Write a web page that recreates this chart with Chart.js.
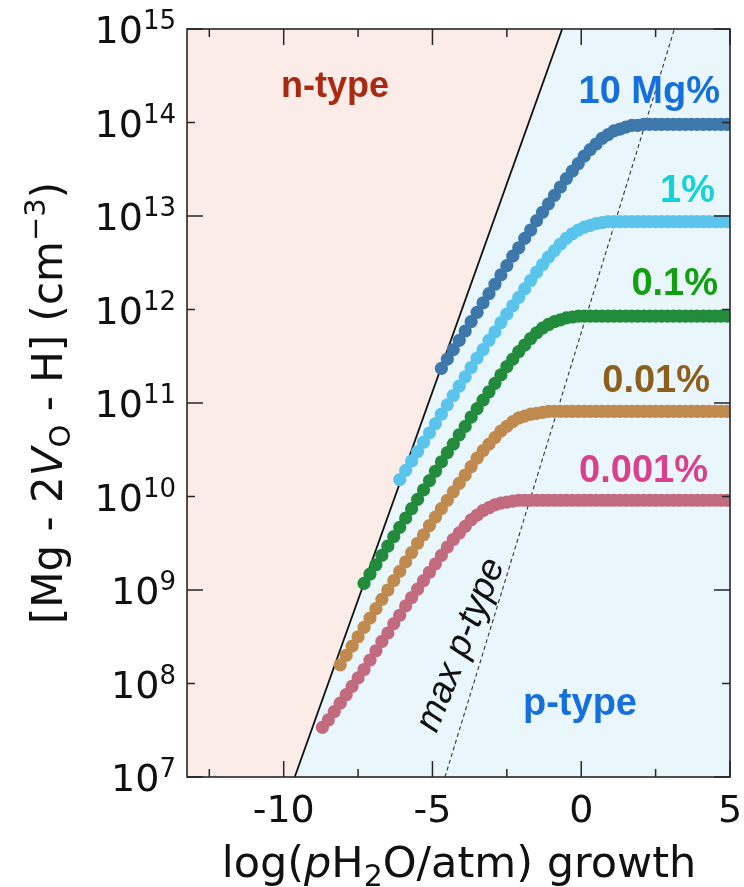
<!DOCTYPE html>
<html>
<head>
<meta charset="utf-8">
<script src="https://cdn.jsdelivr.net/npm/chart.js@4.4.0/dist/chart.umd.min.js"></script>
<style>
  body { margin: 0; background: #fff; }
  canvas { display: block; }
</style>
</head>
<body>
<canvas id="chart" width="744" height="887"></canvas>
<script>
// log(pH2O/atm) grid shared by all curves (each curve ends at 4.9)
const xGrid = [
  -8.7, -8.5, -8.3, -8.1, -7.9, -7.7, -7.5, -7.3, -7.1, -6.9,
  -6.7, -6.5, -6.3, -6.1, -5.9, -5.7, -5.5, -5.3, -5.1, -4.9,
  -4.7, -4.5, -4.3, -4.1, -3.9, -3.7, -3.5, -3.3, -3.1, -2.9,
  -2.7, -2.5, -2.3, -2.1, -1.9, -1.7, -1.5, -1.3, -1.1, -0.9,
  -0.7, -0.5, -0.3, -0.1, 0.1, 0.3, 0.5, 0.7, 0.9, 1.1,
  1.3, 1.5, 1.7, 1.9, 2.1, 2.3, 2.5, 2.7, 2.9, 3.1,
  3.3, 3.5, 3.7, 3.9, 4.1, 4.3, 4.5, 4.7, 4.9
];

// log10 [Mg - 2V_O - H] (cm^-3) for each Mg content
const mg10 = [
  11.37, 11.47, 11.57, 11.67, 11.77, 11.87, 11.97, 12.07, 12.17, 12.27,
  12.37, 12.47, 12.57, 12.66, 12.76, 12.85, 12.95, 13.04, 13.13, 13.22,
  13.31, 13.40, 13.48, 13.56, 13.64, 13.71, 13.77, 13.83, 13.87, 13.91,
  13.93, 13.95, 13.97, 13.97, 13.98, 13.98, 13.98, 13.98, 13.98, 13.98,
  13.98, 13.98, 13.98, 13.98, 13.98, 13.98, 13.98, 13.98, 13.98
];
const mg1 = [
  10.18, 10.28, 10.38, 10.48, 10.58, 10.68, 10.78, 10.88, 10.98, 11.08,
  11.18, 11.28, 11.38, 11.48, 11.57, 11.67, 11.76, 11.86, 11.95, 12.04,
  12.13, 12.22, 12.31, 12.40, 12.48, 12.56, 12.63, 12.70, 12.76, 12.81,
  12.85, 12.88, 12.90, 12.92, 12.93, 12.94, 12.94, 12.94, 12.94, 12.94,
  12.94, 12.94, 12.94, 12.94, 12.94, 12.94, 12.94, 12.94, 12.94, 12.94,
  12.94, 12.94, 12.94, 12.94, 12.94, 12.94
];
const mg01 = [
  9.07, 9.17, 9.27, 9.37, 9.47, 9.57, 9.67, 9.77, 9.87, 9.97,
  10.07, 10.17, 10.27, 10.37, 10.47, 10.56, 10.66, 10.75, 10.85, 10.94,
  11.03, 11.12, 11.21, 11.30, 11.39, 11.47, 11.55, 11.62, 11.69, 11.75,
  11.80, 11.84, 11.87, 11.89, 11.91, 11.92, 11.93, 11.93, 11.93, 11.93,
  11.93, 11.93, 11.93, 11.93, 11.93, 11.93, 11.93, 11.93, 11.93, 11.93,
  11.93, 11.93, 11.93, 11.93, 11.93, 11.93, 11.93, 11.93, 11.93, 11.93,
  11.93, 11.93
];
const mg001 = [
  8.20, 8.30, 8.40, 8.50, 8.60, 8.70, 8.80, 8.90, 9.00, 9.10,
  9.20, 9.30, 9.40, 9.50, 9.59, 9.69, 9.78, 9.87, 9.96, 10.05,
  10.14, 10.23, 10.32, 10.41, 10.49, 10.56, 10.63, 10.70, 10.75, 10.80,
  10.84, 10.86, 10.88, 10.89, 10.90, 10.91, 10.91, 10.91, 10.91, 10.91,
  10.91, 10.91, 10.91, 10.91, 10.91, 10.91, 10.91, 10.91, 10.91, 10.91,
  10.91, 10.91, 10.91, 10.91, 10.91, 10.91, 10.91, 10.91, 10.91, 10.91,
  10.91, 10.91, 10.91, 10.91, 10.91, 10.91
];
const mg0001 = [
  7.53, 7.61, 7.70, 7.79, 7.88, 7.97, 8.06, 8.15, 8.25, 8.35,
  8.45, 8.54, 8.64, 8.73, 8.83, 8.92, 9.01, 9.10, 9.19, 9.28,
  9.37, 9.46, 9.54, 9.61, 9.68, 9.75, 9.80, 9.85, 9.88, 9.91,
  9.93, 9.94, 9.95, 9.96, 9.96, 9.96, 9.96, 9.96, 9.96, 9.96,
  9.96, 9.96, 9.96, 9.96, 9.96, 9.96, 9.96, 9.96, 9.96, 9.96,
  9.96, 9.96, 9.96, 9.96, 9.96, 9.96, 9.96, 9.96, 9.96, 9.96,
  9.96, 9.96, 9.96, 9.96, 9.96, 9.96, 9.96, 9.96, 9.96
];

const seriesNames = ['10 Mg%', '1%', '0.1%', '0.01%', '0.001%'];
const dotColors = ['#3e78ab', '#5ac4ec', '#228b3c', '#c08a4e', '#c26a7e'];
const labelColors = ['#1670dc', '#14d2d6', '#12a012', '#8c5f1e', '#d8428d'];

// n-type / p-type boundary and the max p-type line
const boundaryX = [-9.63, -0.64];
const boundaryY = [1e7, 1e15];
const maxPX = [-4.58, 3.13];
const maxPY = [1e7, 1e15];

const X_MIN = -13.25, X_MAX = 5;
const yTickExps = [7, 8, 9, 10, 11, 12, 13, 14, 15];
const xTicks = [-10, -5, 0, 5];
const xMinorTicks = [-12.5, -7.5, -2.5, 2.5];

function toPoints(values) {
  const xs = xGrid.slice(xGrid.length - values.length);
  return values.map((v, i) => ({ x: xs[i], y: Math.pow(10, v) }));
}

// outline used to shade the two regions on either side of the boundary
const regionEdge = [
  { x: X_MIN, y: boundaryY[0] },
  { x: boundaryX[0], y: boundaryY[0] },
  { x: boundaryX[1], y: boundaryY[1] },
  { x: X_MAX, y: boundaryY[1] }
];

const curves = [mg10, mg1, mg01, mg001, mg0001];
const dotSets = curves.map((vals, i) => ({
  label: seriesNames[i],
  data: toPoints(vals),
  showLine: false,
  pointRadius: 6.6,
  pointBorderWidth: 0,
  pointBackgroundColor: dotColors[i],
  backgroundColor: dotColors[i],
  order: 1 + i
}));

function drawRuns(ctx, runs, x, y, align) {
  let w = 0;
  runs.forEach(r => { ctx.font = r.font; r.w = ctx.measureText(r.text).width; w += r.w; });
  let cx = align === 'right' ? x - w : (align === 'center' ? x - w / 2 : x);
  ctx.textAlign = 'left';
  ctx.textBaseline = 'alphabetic';
  runs.forEach(r => { ctx.font = r.font; ctx.fillText(r.text, cx, y + (r.dy || 0)); cx += r.w; });
}

const axesPlugin = {
  id: 'axesPlugin',
  afterDraw(chart) {
    const ctx = chart.ctx;
    const a = chart.chartArea;
    const xs = chart.scales.x, ys = chart.scales.y;
    ctx.save();

    // region labels
    ctx.textAlign = 'center';
    ctx.textBaseline = 'alphabetic';
    ctx.font = 'bold 36px "Liberation Sans", Arial, sans-serif';
    ctx.fillStyle = '#a82a12';
    ctx.fillText('n-type', 335, 97);
    ctx.font = 'bold 38px "Liberation Sans", Arial, sans-serif';
    ctx.fillStyle = '#1670dc';
    ctx.fillText('p-type', 580, 715);

    // series labels, right aligned above each plateau
    const labelRight = [720, 715, 718, 710, 708];
    const labelBase = [103, 202, 295, 392, 482];
    ctx.textAlign = 'right';
    seriesNames.forEach((name, i) => {
      ctx.fillStyle = labelColors[i];
      ctx.fillText(name, labelRight[i], labelBase[i]);
    });

    // max p-type label along the dashed line
    ctx.save();
    ctx.translate(461, 645);
    ctx.rotate(-68.2 * Math.PI / 180);
    ctx.textAlign = 'center';
    ctx.textBaseline = 'middle';
    ctx.font = 'italic 37px "Liberation Sans", Arial, sans-serif';
    ctx.fillStyle = '#111';
    ctx.fillText('max p-type', 0, 0);
    ctx.restore();

    // frame
    ctx.strokeStyle = '#262626';
    ctx.lineWidth = 1.6;
    ctx.strokeRect(a.left, a.top, a.right - a.left, a.bottom - a.top);

    // inward ticks on all four sides
    ctx.lineWidth = 1.5;
    ctx.beginPath();
    xTicks.forEach(v => {
      const px = xs.getPixelForValue(v);
      ctx.moveTo(px, a.bottom); ctx.lineTo(px, a.bottom - 16);
      ctx.moveTo(px, a.top); ctx.lineTo(px, a.top + 16);
    });
    xMinorTicks.forEach(v => {
      const px = xs.getPixelForValue(v);
      ctx.moveTo(px, a.bottom); ctx.lineTo(px, a.bottom - 8);
      ctx.moveTo(px, a.top); ctx.lineTo(px, a.top + 8);
    });
    yTickExps.forEach(e => {
      const py = ys.getPixelForValue(Math.pow(10, e));
      const len = e % 2 ? 16 : 8;
      ctx.moveTo(a.left, py); ctx.lineTo(a.left + len, py);
      ctx.moveTo(a.right, py); ctx.lineTo(a.right - len, py);
    });
    ctx.stroke();

    // tick labels
    ctx.fillStyle = '#111';
    ctx.textAlign = 'center';
    ctx.font = '38px "DejaVu Sans", sans-serif';
    xTicks.forEach(v => {
      ctx.fillText(String(v), xs.getPixelForValue(v), 822);
    });
    yTickExps.forEach(e => {
      const py = ys.getPixelForValue(Math.pow(10, e));
      drawRuns(ctx, [
        { text: '10', font: '38px "DejaVu Sans", sans-serif', dy: 14 },
        { text: String(e), font: '26px "DejaVu Sans", sans-serif', dy: 0 }
      ], 176, py, 'right');
    });

    // axis titles
    drawRuns(ctx, [
      { text: 'log(', font: '43px "DejaVu Sans", sans-serif' },
      { text: 'p', font: 'italic 43px "DejaVu Sans", sans-serif' },
      { text: 'H', font: '43px "DejaVu Sans", sans-serif' },
      { text: '2', font: '30px "DejaVu Sans", sans-serif', dy: 9 },
      { text: 'O/atm) growth', font: '43px "DejaVu Sans", sans-serif' }
    ], 459, 877, 'center');

    ctx.save();
    ctx.translate(62, 403);
    ctx.rotate(-Math.PI / 2);
    drawRuns(ctx, [
      { text: '[Mg - 2', font: '42px "DejaVu Sans", sans-serif' },
      { text: 'V', font: 'italic 42px "DejaVu Sans", sans-serif' },
      { text: 'O', font: '29px "DejaVu Sans", sans-serif', dy: 8 },
      { text: ' - H] (cm', font: '42px "DejaVu Sans", sans-serif' },
      { text: '\u22123', font: '29px "DejaVu Sans", sans-serif', dy: -17 },
      { text: ')', font: '42px "DejaVu Sans", sans-serif' }
    ], 0, 0, 'center');
    ctx.restore();

    ctx.restore();
  }
};

new Chart(document.getElementById('chart'), {
  type: 'scatter',
  data: {
    datasets: [
      {
        data: regionEdge, showLine: true, fill: 'end',
        backgroundColor: '#fcece8', borderColor: 'transparent', borderWidth: 0,
        pointRadius: 0, order: 20
      },
      {
        data: regionEdge, showLine: true, fill: 'start',
        backgroundColor: '#e9f6fc', borderColor: 'transparent', borderWidth: 0,
        pointRadius: 0, order: 19
      },
      {
        data: boundaryX.map((x, i) => ({ x, y: boundaryY[i] })),
        showLine: true, borderColor: '#111', borderWidth: 1.8,
        pointRadius: 0, order: 10
      },
      {
        data: maxPX.map((x, i) => ({ x, y: maxPY[i] })),
        showLine: true, borderColor: '#333', borderWidth: 1.1, borderDash: [4, 3],
        pointRadius: 0, order: 9
      },
      ...dotSets
    ]
  },
  options: {
    responsive: false,
    animation: false,
    events: [],
    layout: { padding: { left: 187, top: 29, right: 14, bottom: 110 } },
    plugins: { legend: { display: false }, tooltip: { enabled: false } },
    scales: {
      x: { type: 'linear', min: X_MIN, max: X_MAX, display: false },
      y: { type: 'logarithmic', min: 1e7, max: 1e15, display: false }
    }
  },
  plugins: [axesPlugin]
});
</script>
</body>
</html>
